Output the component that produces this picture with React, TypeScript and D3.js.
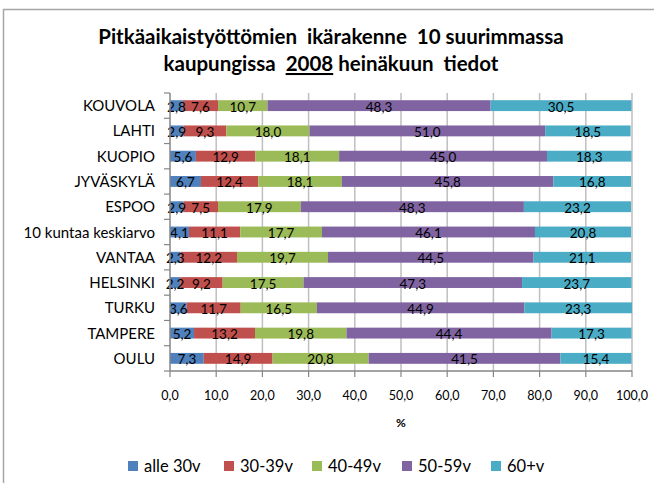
import React, { useEffect, useRef } from "react"
import * as d3 from "d3"

// kaupungit ylhäältä alas
const cities = [
    "KOUVOLA", "LAHTI", "KUOPIO", "JYVÄSKYLÄ", "ESPOO", "10 kuntaa keskiarvo",
    "VANTAA", "HELSINKI", "TURKU", "TAMPERE", "OULU",
]
const groups = ["alle 30v", "30-39v", "40-49v", "50-59v", "60+v"]

const alle30 = [2.8, 2.9, 5.6, 6.7, 2.9, 4.1, 2.3, 2.2, 3.6, 5.2, 7.3]
const v30_39 = [7.6, 9.3, 12.9, 12.4, 7.5, 11.1, 12.2, 9.2, 11.7, 13.2, 14.9]
const v40_49 = [10.7, 18.0, 18.1, 18.1, 17.9, 17.7, 19.7, 17.5, 16.5, 19.8, 20.8]
const v50_59 = [48.3, 51.0, 45.0, 45.8, 48.3, 46.1, 44.5, 47.3, 44.9, 44.4, 41.5]
const v60 = [30.5, 18.5, 18.3, 16.8, 23.2, 20.8, 21.1, 23.7, 23.3, 17.3, 15.4]

const xTicks = [0, 10, 20, 30, 40, 50, 60, 70, 80, 90, 100]
const colors = ["#4F81BD", "#C0504D", "#9BBB59", "#8064A2", "#4BACC6"]

const FONT = "Lato, 'Open Sans', sans-serif"

export default function App() {
    const ref = useRef<SVGSVGElement>(null)

    useEffect(() => {
        const svg = d3.select(ref.current)
        svg.selectAll("*").remove()

        const width = 654
        const height = 483
        const margin = { top: 93, right: 22, bottom: 112, left: 170 }

        const rows = cities.map((c, i) => ({
            city: c,
            "alle 30v": alle30[i],
            "30-39v": v30_39[i],
            "40-49v": v40_49[i],
            "50-59v": v50_59[i],
            "60+v": v60[i],
        }))
        const series = d3.stack<any>().keys(groups)(rows)

        const x = d3.scaleLinear().domain([0, 100]).range([margin.left, width - margin.right])
        const y = d3.scaleBand<string>()
            .domain(cities)
            .range([margin.top, height - margin.bottom])
            .paddingInner(0.57)
            .paddingOuter(0.285)
        const color = d3.scaleOrdinal<string>().domain(groups).range(colors)

        // kehys (vain ylä- ja vasen reuna näkyy)
        svg.append("path")
            .attr("d", `M3.5,${height} V9.5 H${width}`)
            .attr("fill", "none")
            .attr("stroke", "#a6a6a6")
            .attr("stroke-width", 1.5)

        // otsikko
        const title = svg.append("text")
            .attr("text-anchor", "middle")
            .attr("font-family", FONT)
            .attr("font-weight", "bold")
            .attr("font-size", 20.5)
            .attr("fill", "#000")
            .style("white-space", "pre")
        title.append("tspan").attr("x", 331).attr("y", 44)
            .text("Pitkäaikaistyöttömien  ikärakenne  10 suurimmassa")
        title.append("tspan").attr("x", 331).attr("y", 71).text("kaupungissa  ")
        title.append("tspan").attr("text-decoration", "underline").text("2008")
        title.append("tspan").text(" heinäkuun  tiedot")

        const y0 = margin.top
        const y1 = height - margin.bottom

        // pystyviivat
        svg.append("g")
            .selectAll("line")
            .data(xTicks.slice(1))
            .join("line")
            .attr("x1", d => x(d)).attr("x2", d => x(d))
            .attr("y1", y0).attr("y2", y1)
            .attr("stroke", "#bfbfbf")
            .attr("stroke-width", 1.5)

        // palkit
        svg.append("g")
            .selectAll("g")
            .data(series)
            .join("g")
            .attr("fill", d => color(d.key))
            .selectAll("rect")
            .data(d => d)
            .join("rect")
            .attr("x", d => x(d[0]))
            .attr("width", d => x(d[1]) - x(d[0]))
            .attr("y", d => y(d.data.city)!)
            .attr("height", y.bandwidth())

        // arvot
        svg.append("g")
            .attr("font-family", FONT)
            .attr("font-size", 13.5)
            .attr("fill", "#000")
            .attr("text-anchor", "middle")
            .selectAll("g")
            .data(series)
            .join("g")
            .selectAll("text")
            .data(d => d)
            .join("text")
            .attr("x", d => x((d[0] + d[1]) / 2))
            .attr("y", d => y(d.data.city)! + y.bandwidth() / 2 + 6)
            .text(d => d3.format(".1f")(d[1] - d[0]).replace(".", ","))

        // y-akseli
        const yTickPos = d3.range(cities.length + 1).map(i => y0 + i * ((y1 - y0) / cities.length))
        svg.append("line")
            .attr("x1", margin.left).attr("x2", margin.left)
            .attr("y1", y0).attr("y2", y1)
            .attr("stroke", "#868686").attr("stroke-width", 1.5)
        svg.append("g")
            .selectAll("line")
            .data(yTickPos)
            .join("line")
            .attr("x1", margin.left - 6).attr("x2", margin.left)
            .attr("y1", d => d).attr("y2", d => d)
            .attr("stroke", "#868686").attr("stroke-width", 1.2)
        svg.append("g")
            .attr("font-family", FONT)
            .attr("font-size", 15)
            .attr("fill", "#000")
            .attr("text-anchor", "end")
            .selectAll("text")
            .data(cities)
            .join("text")
            .attr("x", 155)
            .attr("y", d => y(d)! + y.bandwidth() / 2 + 5.5)
            .text(d => d)

        // x-akseli
        svg.append("line")
            .attr("x1", margin.left).attr("x2", width - margin.right)
            .attr("y1", y1).attr("y2", y1)
            .attr("stroke", "#868686").attr("stroke-width", 1.5)
        svg.append("g")
            .selectAll("line")
            .data(xTicks)
            .join("line")
            .attr("x1", d => x(d)).attr("x2", d => x(d))
            .attr("y1", y1).attr("y2", y1 + 6)
            .attr("stroke", "#868686").attr("stroke-width", 1.2)
        svg.append("g")
            .attr("font-family", FONT)
            .attr("font-size", 12.5)
            .attr("fill", "#000")
            .attr("text-anchor", "middle")
            .selectAll("text")
            .data(xTicks)
            .join("text")
            .attr("x", d => x(d))
            .attr("y", 400)
            .text(d => d3.format(".1f")(d).replace(".", ","))
        svg.append("text")
            .attr("x", (x(0) + x(100)) / 2)
            .attr("y", 427)
            .attr("text-anchor", "middle")
            .attr("font-family", FONT)
            .attr("font-weight", "bold")
            .attr("font-size", 12)
            .text("%")

        // selite
        const legendX = [128, 224, 312, 402, 491]
        const legend = svg.append("g")
            .attr("font-family", FONT)
            .attr("font-size", 16.5)
            .selectAll("g")
            .data(groups)
            .join("g")
            .attr("transform", (d, i) => `translate(${legendX[i]},466)`)
        legend.append("rect")
            .attr("width", 10).attr("height", 10)
            .attr("y", -5)
            .attr("fill", d => color(d))
        legend.append("text")
            .attr("x", 16)
            .attr("y", 6)
            .text(d => d)
    }, [])

    return (
        <svg
            ref={ref}
            width={654}
            height={483}
            style={{ position: "absolute", left: 0, top: 0, background: "#fff" }}
        />
    )
}
